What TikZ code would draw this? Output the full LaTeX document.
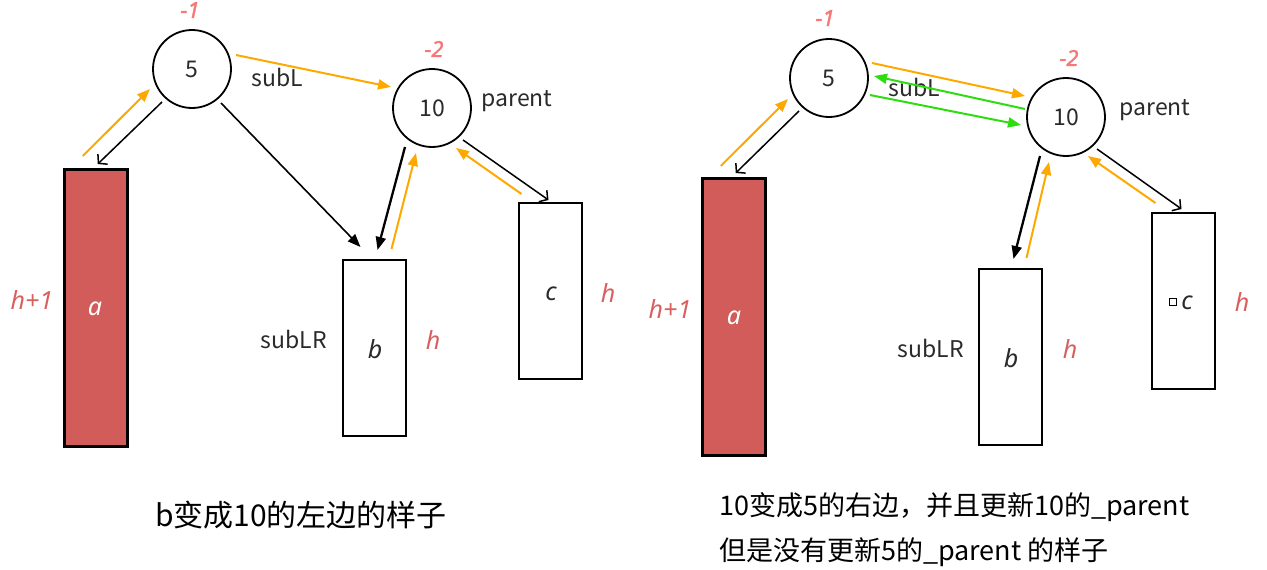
\documentclass[tikz,border=0pt]{standalone}
\usepackage{fontspec}
\setmainfont{Noto Sans CJK SC}
\newfontfamily\latinsf{Noto Sans}
\newfontfamily\latinbold[FakeBold=1.5]{Noto Sans}
\usetikzlibrary{arrows.meta,calc}
\definecolor{arrorange}{HTML}{FFA800}
\definecolor{arrgreen}{HTML}{2EDD10}
\definecolor{hred}{HTML}{D95F5F}
\definecolor{balred}{HTML}{F77777}
\definecolor{afill}{HTML}{D15C5A}
\definecolor{txtgray}{HTML}{2A2A2A}
\tikzset{
  treenode/.style={circle,draw=black,line width=1.8pt,minimum size=78pt,inner sep=0pt,font=\fontsize{23}{26}\selectfont,text=txtgray},
  subtree/.style={draw=black,line width=2pt,inner sep=0pt,minimum width=63pt,minimum height=176pt},
  redtree/.style={subtree,fill=afill,line width=2.5pt,minimum height=277pt},
  lbl/.style={font=\fontsize{23}{26}\selectfont,text=txtgray,inner sep=0pt},
  varlbl/.style={font=\latinsf\itshape\fontsize{25}{28}\selectfont,text=txtgray,inner sep=0pt},
  hlbl/.style={font=\latinsf\itshape\fontsize{25}{28}\selectfont,text=hred,inner sep=0pt},
  ballbl/.style={font=\latinbold\itshape\fontsize{22}{24}\selectfont,text=balred,inner sep=0pt},
  caption/.style={font=\fontsize{30}{44}\selectfont,text=black,inner sep=0pt},
  rcaption/.style={font=\fontsize{27}{40}\selectfont,text=black,inner sep=0pt},
  orangearr/.style={draw=arrorange,line width=2pt,-{Triangle[length=13pt,width=10pt]}},
  greenarr/.style={draw=arrgreen,line width=2pt,-{Triangle[length=13pt,width=10pt]}},
  blackarr/.style={draw=black,line width=2.3pt,-{Triangle[length=13pt,width=10pt]}},
  thinarr/.style={draw=black,line width=1.6pt,-{Triangle[length=13pt,width=10pt]}},
  openarr/.style={draw=black,line width=1.5pt,-{Straight Barb[length=6pt,width=14pt]}}
}
\begin{document}
\begin{tikzpicture}[x=1pt,y=-1pt]
\useasboundingbox (0,0) rectangle (1267,570);
% ---------------- left panel ----------------
\node[treenode] (Lc5) at (192,69) {5};
\node[treenode] (Lc10) at (432,108) {10};
\node[ballbl] (Lbal5) at (190,10) {-1};
\node[ballbl] (Lbal10) at (434,49) {-2};
\node[lbl] (LsubL) at (277,77) {subL};
\node[lbl] (Lparent) at (517,101) {parent};
\node[redtree,anchor=north west] (La) at (63,168) {};
\node[subtree,anchor=north west] (Lb) at (342,259) {};
\node[subtree,anchor=north west] (Lc) at (518,202) {};
\node[varlbl,text=white] (Lalbl) at (95,309) {a};
\node[varlbl] (Lblbl) at (375,349) {b};
\node[varlbl] (Lclbl) at (551,294) {c};
\node[hlbl] (Lha) at (32,300) {h+1};
\node[hlbl] (Lhb) at (433,340) {h};
\node[hlbl] (Lhc) at (608,293) {h};
\node[lbl] (LsubLR) at (294,339) {subLR};
\node[caption] (Lcap) at (301,515) {b变成10的左边的样子};
\draw[orangearr] ($(La.north)+(-13,-12)$) -- ($(Lc5)+(-42,20)$);
\draw[openarr] ($(Lc5)+(-30,33)$) -- ($(La.north)+(2,-4)$);
\draw[thinarr] ($(Lc5)+(29,34)$) -- ($(Lb.north)+(-14,-12)$);
\draw[orangearr] ($(Lc5)+(44,-14)$) -- ($(Lc10)+(-41,-21)$);
\draw[blackarr] ($(Lc10)+(-27,39)$) -- ($(Lb.north)+(3,-9)$);
\draw[orangearr] ($(Lb.north)+(17,-10)$) -- ($(Lc10)+(-16,45)$);
\draw[orangearr] ($(Lc.north)+(-29,-8)$) -- ($(Lc10)+(24,40)$);
\draw[openarr] ($(Lc10)+(31,32)$) -- ($(Lc.north)+(-2,-2)$);
% ---------------- right panel ----------------
\node[treenode] (Rc5) at (829,78) {5};
\node[treenode] (Rc10) at (1066,117) {10};
\node[ballbl] (Rbal5) at (825,18) {-1};
\node[ballbl] (Rbal10) at (1069,58) {-2};
\node[lbl] (RsubL) at (914,87) {subL};
\node[lbl] (Rparent) at (1155,110) {parent};
\node[redtree,anchor=north west] (Ra) at (701,177) {};
\node[subtree,anchor=north west] (Rb) at (978,268) {};
\node[subtree,anchor=north west] (Rc) at (1151,212) {};
\node[varlbl,text=white] (Ralbl) at (734,318) {a};
\node[varlbl] (Rblbl) at (1011,358) {b};
\node[varlbl] (Rclbl) at (1187,303) {c};
\node[draw=black,line width=0.8pt,minimum size=7pt,inner sep=0pt] (Rsq) at (1173,302) {};
\node[hlbl] (Rha) at (670,309) {h+1};
\node[hlbl] (Rhb) at (1070,349) {h};
\node[hlbl] (Rhc) at (1242,302) {h};
\node[lbl] (RsubLR) at (931,348) {subLR};
\node[rcaption,anchor=west] (Rcap1) at (719,507) {10变成5的右边，并且更新10的\_parent};
\node[rcaption,anchor=west] (Rcap2) at (719,552) {但是没有更新5的\_parent 的样子};
\draw[orangearr] ($(Ra.north)+(-13,-11)$) -- ($(Rc5)+(-41,21)$);
\draw[openarr] ($(Rc5)+(-30,33)$) -- ($(Ra.north)+(2,-4)$);
\draw[orangearr] ($(Rc5)+(43,-15)$) -- ($(Rc10)+(-41,-21)$);
\draw[greenarr] ($(Rc10)+(-41,-8)$) -- ($(Rc5)+(45,-2)$);
\draw[greenarr] ($(Rc5)+(41,17)$) -- ($(Rc10)+(-45,8)$);
\draw[blackarr] ($(Rc10)+(-26,39)$) -- ($(Rb.north)+(3,-9)$);
\draw[orangearr] ($(Rb.north)+(16,-10)$) -- ($(Rc10)+(-17,45)$);
\draw[orangearr] ($(Rc.north)+(-28,-9)$) -- ($(Rc10)+(22,39)$);
\draw[openarr] ($(Rc10)+(31,32)$) -- ($(Rc.north)+(-2,-3)$);
\end{tikzpicture}
\end{document}
